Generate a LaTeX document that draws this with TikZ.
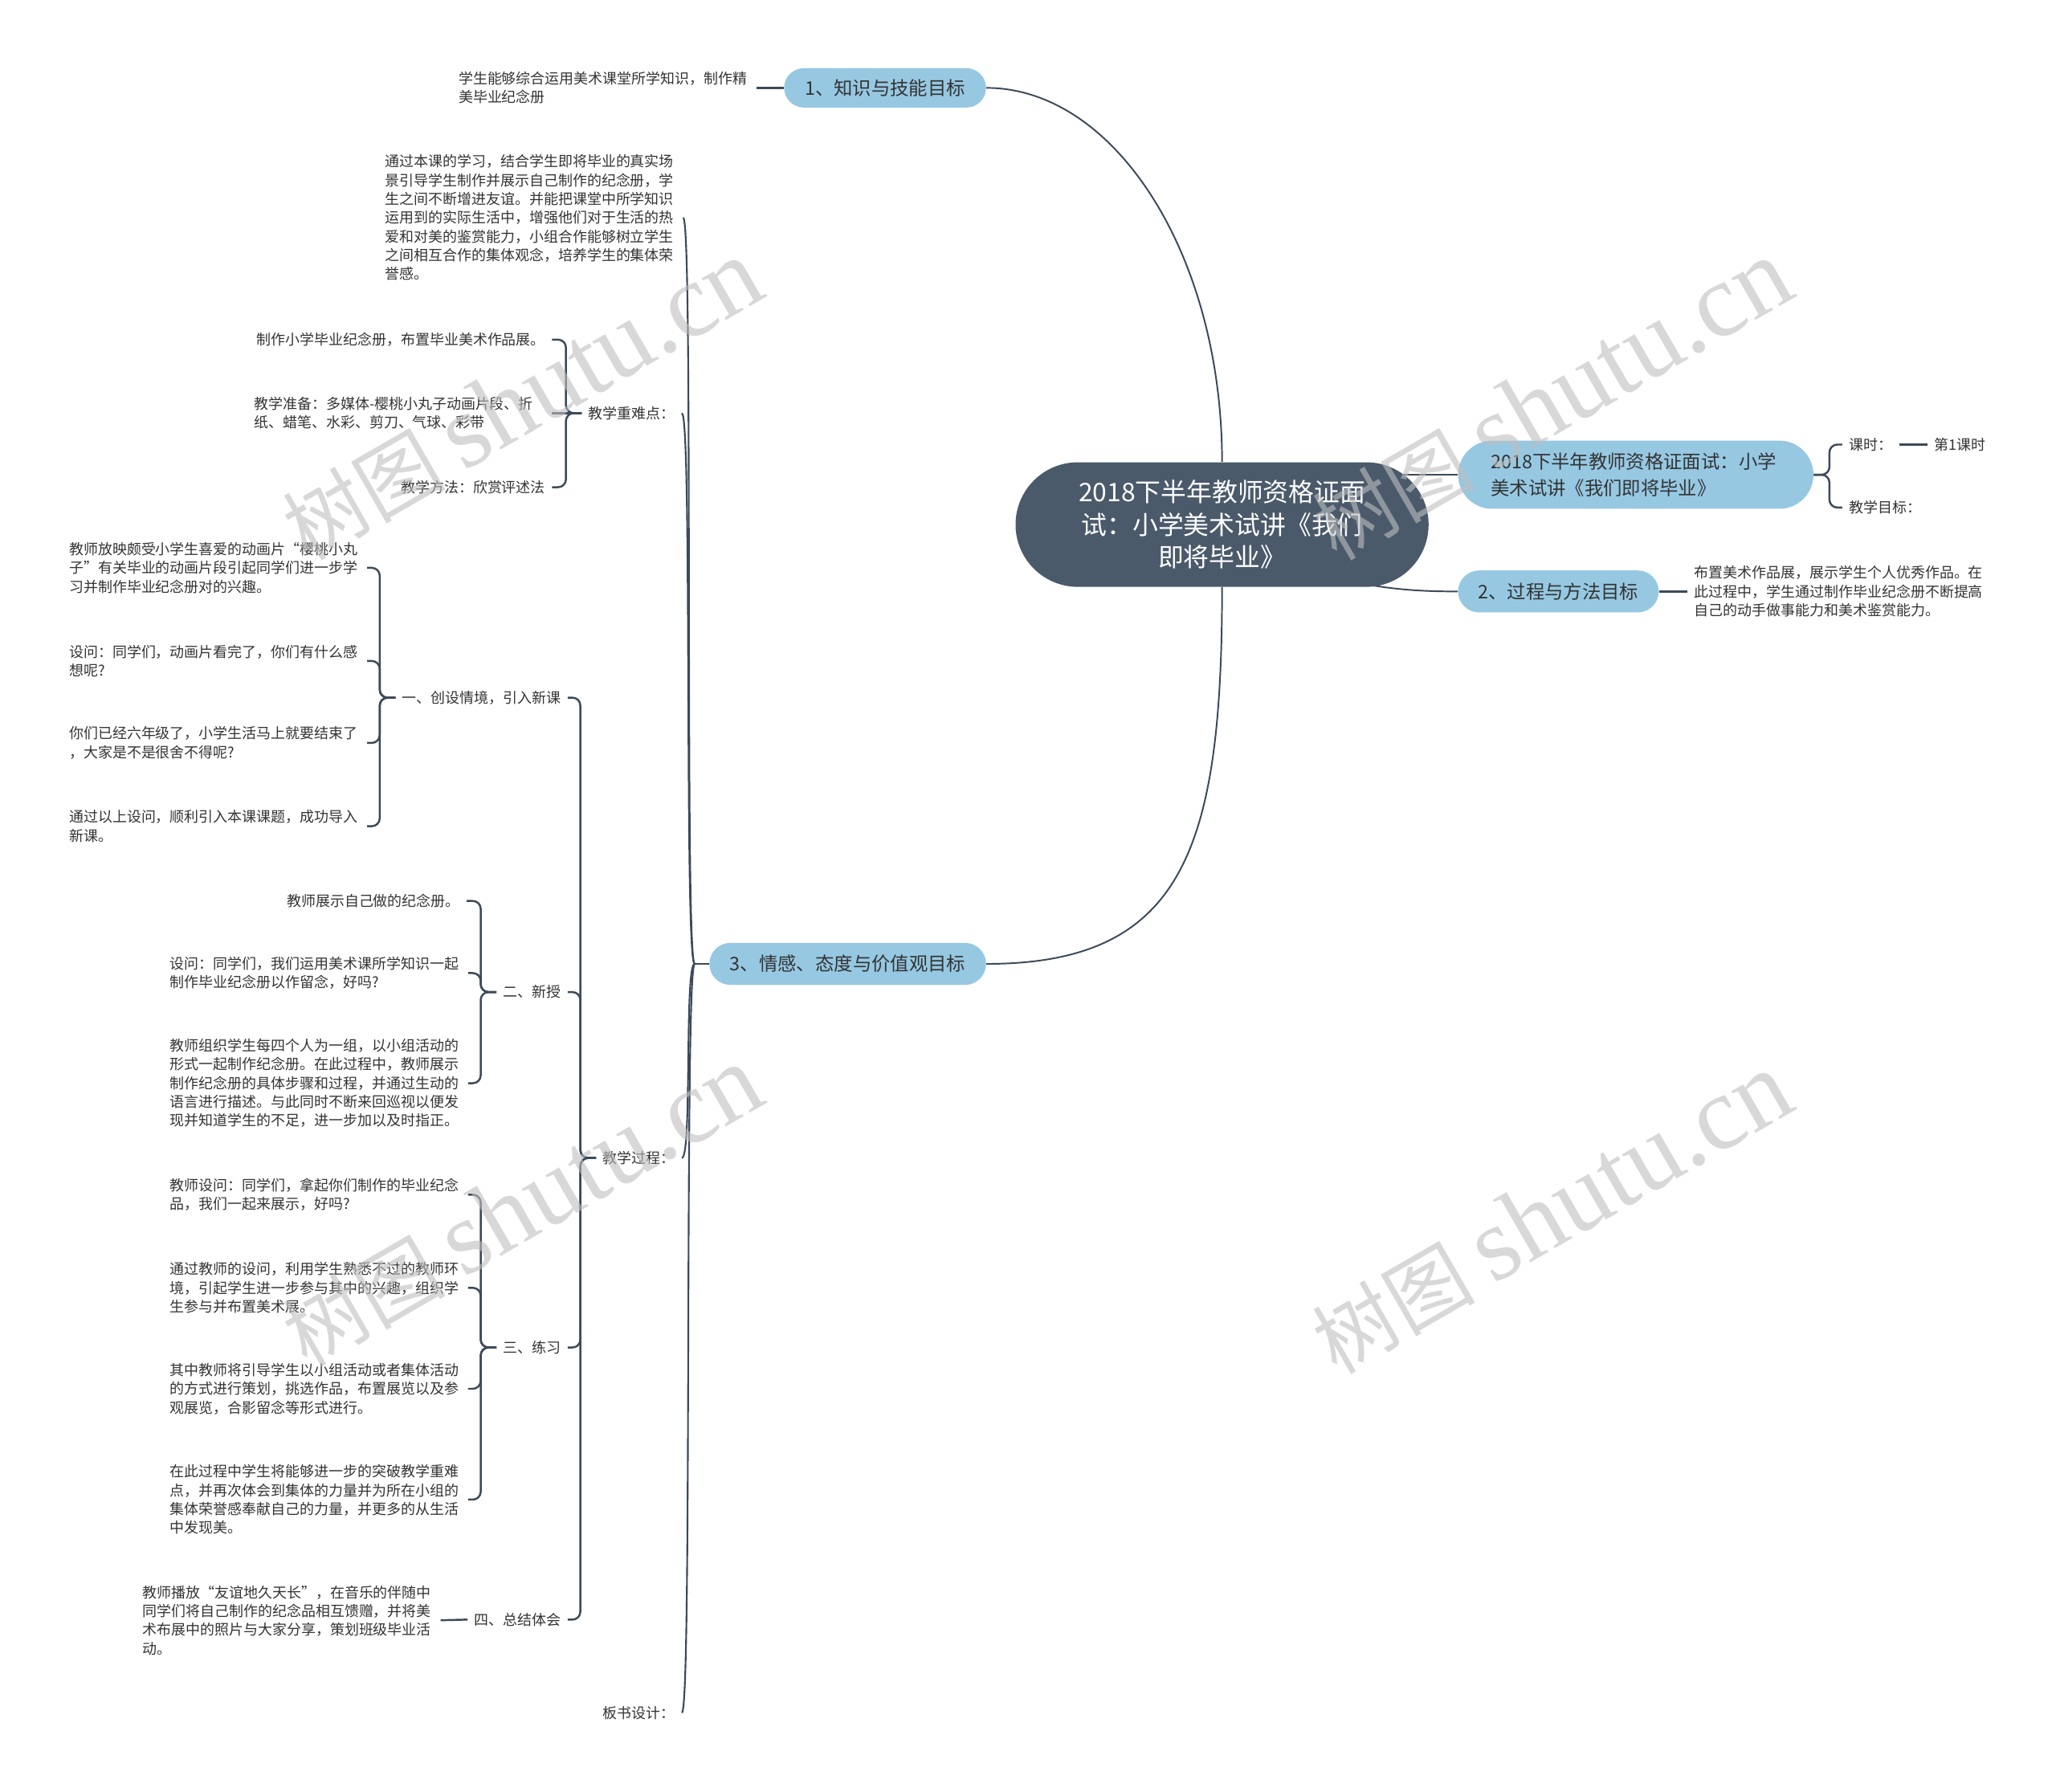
\documentclass[tikz,border=0pt]{standalone}
\usepackage{fontspec}
\setmainfont{Noto Sans CJK SC}
\newfontfamily\wmlatin{Liberation Serif}
\usetikzlibrary{calc}
\pgfdeclarelayer{background}
\pgfdeclarelayer{foreground}
\pgfsetlayers{background,main,foreground}
\definecolor{rootc}{HTML}{4A5A6B}
\definecolor{pillc}{HTML}{96C8E2}
\definecolor{linec}{HTML}{3B4A59}
\definecolor{textc}{HTML}{333333}
\newcommand{\wmtext}{{\fontsize{62}{62}\selectfont 树图}\hspace{14pt}{\wmlatin\fontsize{80}{80}\selectfont shutu.cn}}
\begin{document}
\begin{tikzpicture}[x=1pt,y=-1pt,
  txt/.style={font=\fontsize{11}{14.3}\selectfont, text=textc, inner xsep=5pt, inner ysep=2pt, align=left},
  blk/.style={txt, text width=222pt},
  pill/.style={fill=pillc, text=textc, inner sep=0pt, align=center, font=\fontsize{14.3}{20}\selectfont},
  rootnode/.style={fill=rootc, text=white, rounded corners=47.5pt, minimum width=315pt, minimum height=95pt, inner sep=0pt, align=center, font=\fontsize{19.5}{25}\selectfont},
  thinln/.style={draw=linec, line width=1.2pt},
  trunk/.style={draw=linec, line width=1.3pt},
  brk/.style={draw=linec, line width=1.5pt, rounded corners=6pt},
  wm/.style={text=black!25, text opacity=0.6, inner sep=0pt}
]
\useasboundingbox (0,0) rectangle (1568,1366);

% central and main branches
\node[rootnode] (root) at (932,400) {2018下半年教师资格证面\\试：小学美术试讲《我们\\即将毕业》};
\node[pill, minimum width=271pt, minimum height=52pt, rounded corners=26pt, text width=221pt, align=left] (pA) at (1247.5,362) {2018下半年教师资格证面试：小学\\美术试讲《我们即将毕业》};
\node[pill, minimum width=153pt, minimum height=32pt, rounded corners=16pt] (p2) at (1188.5,451) {2、过程与方法目标};
\node[pill, minimum width=154pt, minimum height=30pt, rounded corners=15pt] (p1) at (675,67) {1、知识与技能目标};
\node[pill, minimum width=211pt, minimum height=32pt, rounded corners=16pt] (p3) at (646.5,735) {3、情感、态度与价值观目标};

% right side
\node[txt, anchor=west] (kshi) at (1405,339) {课时：};
\node[txt, anchor=west] (k1) at (1470,339) {第1课时};
\node[txt, anchor=west] (kmb) at (1405,387) {教学目标：};
\node[blk, anchor=west] (t2) at (1287,451) {布置美术作品展，展示学生个人优秀作品。在\\此过程中，学生通过制作毕业纪念册不断提高\\自己的动手做事能力和美术鉴赏能力。};

% top left
\node[blk, anchor=east] (t1) at (577,67) {学生能够综合运用美术课堂所学知识，制作精\\美毕业纪念册};

% children of 3
\node[blk, anchor=east] (m1) at (521,166) {通过本课的学习，结合学生即将毕业的真实场\\景引导学生制作并展示自己制作的纪念册，学\\生之间不断增进友谊。并能把课堂中所学知识\\运用到的实际生活中，增强他们对于生活的热\\爱和对美的鉴赏能力，小组合作能够树立学生\\之间相互合作的集体观念，培养学生的集体荣\\誉感。};
\node[txt, anchor=east] (m2) at (520,315) {教学重难点：};
\node[txt, anchor=east] (m3) at (520,883) {教学过程：};
\node[txt, anchor=east] (m4) at (520,1306) {板书设计：};

% children of 教学重难点
\node[txt, anchor=east] (e1) at (421,259) {制作小学毕业纪念册，布置毕业美术作品展。};
\node[blk, anchor=east] (e2) at (421,315) {教学准备：多媒体-樱桃小丸子动画片段、折\\纸、蜡笔、水彩、剪刀、气球、彩带};
\node[txt, anchor=east] (e3) at (421,371.5) {教学方法：欣赏评述法};

% children of 教学过程
\node[txt, anchor=east] (g1) at (433,532) {一、创设情境，引入新课};
\node[txt, anchor=east] (g2) at (433,756.5) {二、新授};
\node[txt, anchor=east] (g3) at (433,1027.5) {三、练习};
\node[txt, anchor=east] (g4) at (433,1235) {四、总结体会};

\node[blk, anchor=east] (a1) at (280,433) {教师放映颇受小学生喜爱的动画片“樱桃小丸\\子”有关毕业的动画片段引起同学们进一步学\\习并制作毕业纪念册对的兴趣。};
\node[blk, anchor=east] (a2) at (280,504) {设问：同学们，动画片看完了，你们有什么感\\想呢?};
\node[blk, anchor=east] (a3) at (280,566.5) {你们已经六年级了，小学生活马上就要结束了\\，大家是不是很舍不得呢?};
\node[blk, anchor=east] (a4) at (280,630) {通过以上设问，顺利引入本课课题，成功导入\\新课。};

\node[txt, anchor=east] (b1) at (356,687) {教师展示自己做的纪念册。};
\node[blk, anchor=east] (b2) at (357,742) {设问：同学们，我们运用美术课所学知识一起\\制作毕业纪念册以作留念，好吗?};
\node[blk, anchor=east] (b3) at (357,826) {教师组织学生每四个人为一组，以小组活动的\\形式一起制作纪念册。在此过程中，教师展示\\制作纪念册的具体步骤和过程，并通过生动的\\语言进行描述。与此同时不断来回巡视以便发\\现并知道学生的不足，进一步加以及时指正。};

\node[blk, anchor=east] (c1) at (357,911) {教师设问：同学们，拿起你们制作的毕业纪念\\品，我们一起来展示，好吗?};
\node[blk, anchor=east] (c2) at (357,982) {通过教师的设问，利用学生熟悉不过的教师环\\境，引起学生进一步参与其中的兴趣，组织学\\生参与并布置美术展。};
\node[blk, anchor=east] (c3) at (357,1059) {其中教师将引导学生以小组活动或者集体活动\\的方式进行策划，挑选作品，布置展览以及参\\观展览，合影留念等形式进行。};
\node[blk, anchor=east] (c4) at (357,1143.5) {在此过程中学生将能够进一步的突破教学重难\\点，并再次体会到集体的力量并为所在小组的\\集体荣誉感奉献自己的力量，并更多的从生活\\中发现美。};

\node[blk, anchor=east] (d1) at (336,1235.5) {教师播放“友谊地久天长”，在音乐的伴随中\\同学们将自己制作的纪念品相互馈赠，并将美\\术布展中的照片与大家分享，策划班级毕业活\\动。};

\coordinate (tj) at ($(p3.west)+(-11,0)$);

\begin{pgfonlayer}{background}
\fill[white] (0,0) rectangle (1568,1366);
\draw[thinln] (p1.east) .. controls +(98,0) and +(0,-158) .. (root.north);
\draw[thinln] (p3.east) .. controls +(150,0) and +(0,200) .. (root.south);
\draw[thinln] (root.center |- pA.west) -- (pA.west);
\draw[thinln] (root.center) .. controls +(70,50) and +(-35,0) .. (p2.west);
\draw[brk] (p1.west) -- (t1.east);
\draw[brk] (p2.east) -- (t2.west);
\draw[brk] (pA.east) -- ++(12,0) |- (kshi.west);
\draw[brk] (pA.east) -- ++(12,0) |- (kmb.west);
\draw[brk] (kshi.east) -- (k1.west);
\draw[brk] (p3.west) -- (tj);
\foreach \nd in {m1,m2,m3,m4} \draw[trunk] (tj) .. controls +(-8,0) and +(8,0) .. (\nd.east);
\foreach \nd in {e1,e3} \draw[brk] (m2.west) -- ++(-12,0) |- (\nd.east);
\draw[brk] (m2.west) -- (e2.east);
\foreach \nd in {g1,g2,g3,g4} \draw[brk] (m3.west) -- ++(-12,0) |- (\nd.east);
\foreach \nd in {a1,a2,a3,a4} \draw[brk] (g1.west) -- ++(-12,0) |- (\nd.east);
\foreach \nd in {b1,b2,b3} \draw[brk] (g2.west) -- ++(-12,0) |- (\nd.east);
\foreach \nd in {c1,c2,c3,c4} \draw[brk] (g3.west) -- ++(-12,0) |- (\nd.east);
\draw[brk] (g4.west) -- (d1.east);
\end{pgfonlayer}

\begin{pgfonlayer}{foreground}
\node[wm, rotate=30] (w1) at (398,305) {\wmtext};
\node[wm, rotate=30] (w2) at (1183,305) {\wmtext};
\node[wm, rotate=30] (w3) at (398,920) {\wmtext};
\node[wm, rotate=30] (w4) at (1183,925) {\wmtext};
\end{pgfonlayer}
\end{tikzpicture}
\end{document}
